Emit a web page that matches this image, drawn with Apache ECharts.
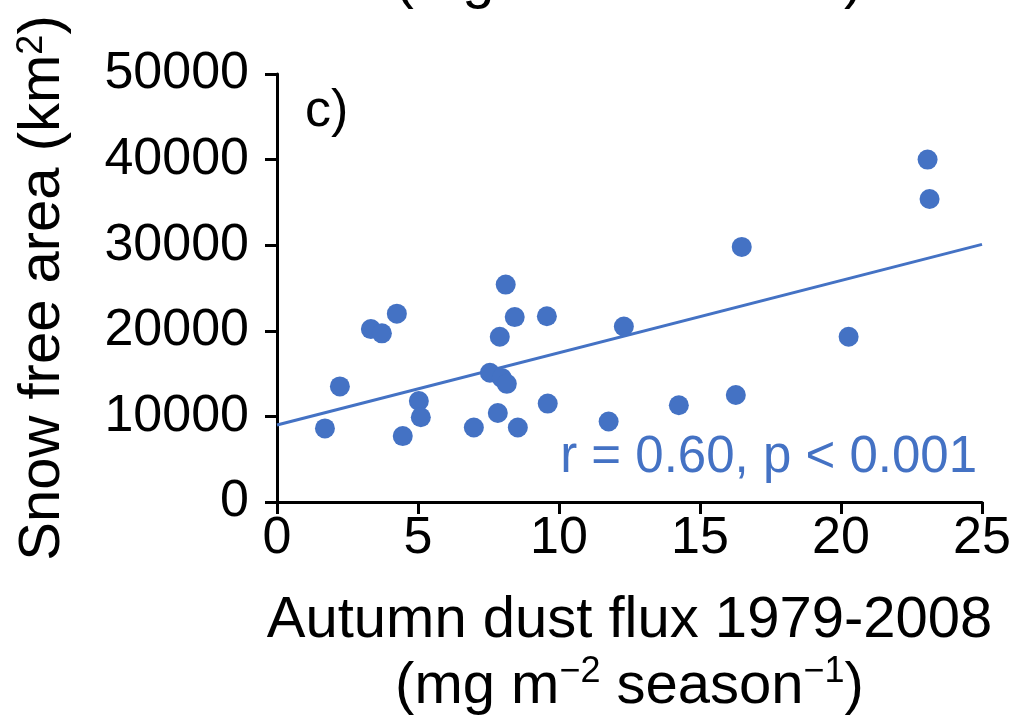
<!DOCTYPE html>
<html>
<head>
<meta charset="utf-8">
<script src="https://cdn.jsdelivr.net/npm/echarts@6/dist/echarts.min.js"></script>
<style>
  html, body { margin: 0; padding: 0; background: #fff; }
  #chart { width: 1013px; height: 722px; }
</style>
</head>
<body>
<div id="chart"></div>
<script>
// autumn dust flux (mg m-2 season-1) vs snow free area (km2)
const dustFlux = [1.70, 2.23, 3.33, 3.72, 4.25, 4.46, 5.03, 5.10, 6.98, 7.55,
                  7.83, 7.90, 7.97, 8.15, 8.11, 8.43, 8.54, 9.57, 9.60, 11.76,
                  12.30, 14.25, 16.27, 16.48, 20.27, 23.07, 23.14];
const snowFree = [8600, 13500, 20200, 19700, 22000, 7700, 11800, 9900, 8700, 15100,
                  10400, 19300, 14500, 13800, 25400, 21600, 8700, 21700, 11500, 9400,
                  20500, 11300, 12500, 29800, 19300, 40000, 35400];
// regression line end points
const fitX = [0, 25];
const fitY = [9000, 30100];
const xTicks = [0, 5, 10, 15, 20, 25];
const yTicks = [0, 10000, 20000, 30000, 40000, 50000];

const blue = '#4472C4';
const font = '"Liberation Sans", Arial, sans-serif';

const chart = echarts.init(document.getElementById('chart'));

const points = dustFlux.map((x, i) => [x, snowFree[i]]);
const fit = fitX.map((x, i) => [x, fitY[i]]);

const richTitle = {
    t: { fontFamily: font, fontSize: 58, color: '#000' },
    s: { fontFamily: font, fontSize: 36, color: '#000', verticalAlign: 'top' }
};

const option = {
    backgroundColor: '#fff',
    animation: false,
    grid: { left: 277, right: 31, top: 74, bottom: 220, containLabel: false, outerBoundsMode: 'none' },
    xAxis: {
        type: 'value',
        min: xTicks[0],
        max: xTicks[xTicks.length - 1],
        interval: 5,
        name: '{t|Autumn dust flux 1979-2008}\n{t|(mg m}{s|−2}{t| season}{s|−1}{t|)}',
        nameLocation: 'middle',
        nameGap: 86,
        nameTextStyle: {
            color: '#000', fontFamily: font, fontSize: 58, lineHeight: 66,
            verticalAlign: 'top',
            rich: richTitle
        },
        axisLine: { show: true, onZero: false, lineStyle: { color: '#000', width: 3 } },
        axisTick: { show: true, inside: false, length: 12, lineStyle: { color: '#000', width: 3 } },
        axisLabel: { color: '#000', fontFamily: font, fontSize: 52, margin: 11 },
        splitLine: { show: false }
    },
    yAxis: {
        type: 'value',
        min: yTicks[0],
        max: yTicks[yTicks.length - 1],
        interval: 10000,
        name: '{t|Snow free area (km}{s|2}{t|)}',
        nameLocation: 'middle',
        nameGap: 205,
        nameRotate: 90,
        nameTextStyle: {
            color: '#000', fontFamily: font, fontSize: 58,
            rich: richTitle
        },
        axisLine: { show: true, onZero: false, lineStyle: { color: '#000', width: 3 } },
        axisTick: { show: true, inside: false, length: 12, lineStyle: { color: '#000', width: 3 } },
        axisLabel: {
            color: '#000', fontFamily: font, fontSize: 52, margin: 28,
            formatter: v => String(v)
        },
        splitLine: { show: false }
    },
    graphic: [
        {
            type: 'text', left: 305, top: 86,
            style: { text: 'c)', font: '52px ' + font, fill: '#000' }
        },
        {
            type: 'text', right: 36, top: 432,
            style: { text: 'r = 0.60, p < 0.001', font: '51px ' + font, fill: blue }
        },
        {
            // bottom of the previous panel's axis title, cut off at the top
            type: 'text', x: 629, y: 10,
            style: {
                text: '{t|(mg m}{s|−2}{t| season}{s|−1}{t|)}',
                rich: richTitle,
                align: 'center', verticalAlign: 'bottom'
            }
        }
    ],
    series: [
        {
            type: 'line',
            data: fit,
            symbol: 'none',
            lineStyle: { color: blue, width: 3 },
            z: 2
        },
        {
            type: 'scatter',
            data: points,
            symbol: 'circle',
            symbolSize: 20,
            itemStyle: { color: blue, opacity: 1 },
            z: 3
        }
    ]
};

chart.setOption(option);
</script>
</body>
</html>
